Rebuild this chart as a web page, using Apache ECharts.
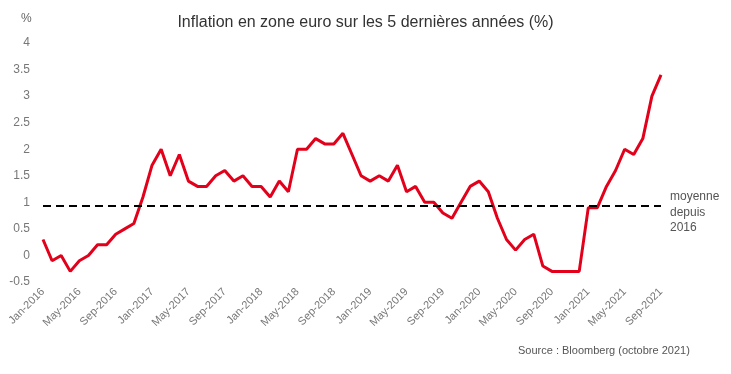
<!DOCTYPE html>
<html><head><meta charset="utf-8">
<script src="https://cdn.jsdelivr.net/npm/echarts@6/dist/echarts.min.js"></script>
<style>html,body{margin:0;padding:0;background:#fff}#c{width:731px;height:374px}</style>
</head><body><div id="c"></div>
<script>
const monthNames = ['Jan','Feb','Mar','Apr','May','Jun','Jul','Aug','Sep','Oct','Nov','Dec'];
const years = [2016, 2017, 2018, 2019, 2020, 2021];
const categories = [];
years.forEach(y => monthNames.forEach(m => categories.push(m + '-' + y)));
categories.length = 69; // Jan-2016 .. Sep-2021

const inflation2016 = [0.3, -0.1, 0.0, -0.3, -0.1, 0.0, 0.2, 0.2, 0.4, 0.5, 0.6, 1.1];
const inflation2017 = [1.7, 2.0, 1.5, 1.9, 1.4, 1.3, 1.3, 1.5, 1.6, 1.4, 1.5, 1.3];
const inflation2018 = [1.3, 1.1, 1.4, 1.2, 2.0, 2.0, 2.2, 2.1, 2.1, 2.3, 1.9, 1.5];
const inflation2019 = [1.4, 1.5, 1.4, 1.7, 1.2, 1.3, 1.0, 1.0, 0.8, 0.7, 1.0, 1.3];
const inflation2020 = [1.4, 1.2, 0.7, 0.3, 0.1, 0.3, 0.4, -0.2, -0.3, -0.3, -0.3, -0.3];
const inflation2021 = [0.9, 0.9, 1.3, 1.6, 2.0, 1.9, 2.2, 3.0, 3.4];
const inflation = [].concat(inflation2016, inflation2017, inflation2018, inflation2019, inflation2020, inflation2021);
const averageSince2016 = 0.93;
const yTicks = [-0.5, 0, 0.5, 1, 1.5, 2, 2.5, 3, 3.5, 4];

const font = 'Liberation Sans';
const chart = echarts.init(document.getElementById('c'));
chart.setOption({
  animation: false,
  backgroundColor: '#fff',
  textStyle: {fontFamily: font},
  title: {
    text: 'Inflation en zone euro sur les 5 dernières années (%)',
    left: 'center', top: 10,
    textStyle: {fontFamily: font, fontSize: 16, fontWeight: 'normal', color: '#333'}
  },
  graphic: [
    {type: 'text', left: 21, top: 13, style: {text: '%', font: '12px ' + font, fill: '#666'}},
    {type: 'text', left: 670, top: 189, style: {text: 'moyenne\ndepuis\n2016', font: '12px ' + font, fill: '#555', lineHeight: 15.5}},
    {type: 'text', left: 518, top: 345, style: {text: 'Source : Bloomberg (octobre 2021)', font: '11px ' + font, fill: '#555'}}
  ],
  grid: {left: 43, right: 70, top: 43, bottom: 92, containLabel: false},
  xAxis: {
    type: 'category', data: categories, boundaryGap: false,
    axisLine: {show: false}, axisTick: {show: false}, splitLine: {show: false},
    axisLabel: {interval: 3, rotate: 45, color: '#777', fontSize: 11, margin: 8, fontFamily: font}
  },
  yAxis: {
    type: 'value', min: yTicks[0], max: yTicks[yTicks.length - 1], interval: 0.5,
    axisLine: {show: false}, axisTick: {show: false}, splitLine: {show: false},
    axisLabel: {color: '#777', fontSize: 12, margin: 13, fontFamily: font}
  },
  series: [{
    type: 'line', data: inflation, symbol: 'none',
    lineStyle: {color: '#e2001a', width: 3},
    markLine: {
      silent: true, symbol: 'none', label: {show: false},
      lineStyle: {color: '#000', type: [8, 5], width: 2},
      data: [{yAxis: averageSince2016}]
    }
  }]
});
</script></body></html>
